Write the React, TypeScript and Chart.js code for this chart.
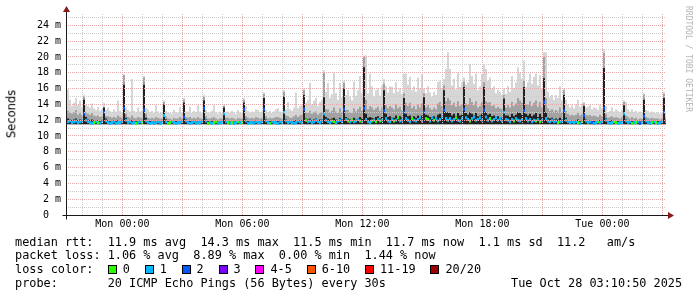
import { useEffect, useRef } from "react";
import { Chart, registerables } from "chart.js";

Chart.register(...registerables);

// ---- time axis: one sample every 6 minutes, 30 hours, hour 0 = Mon 00:00 ----
const FIRST_SAMPLE_HOUR = -2.77;
const SAMPLE_STEP_HOURS = 0.1;
const AXIS_MIN_HOUR = -2.82;
const AXIS_MAX_HOUR = 27.18;

// median rtt per sample (ms)
const MEDIAN_MS = [
  11.8, 11.9, 11.7, 11.8, 11.9, 11.7, 11.8, 11.9, 12.8, 12.0,
  11.8, 11.7, 11.6, 11.7, 11.8, 11.7, 11.6, 11.8, 13.0, 11.9,
  11.7, 11.6, 11.7, 11.8, 11.6, 11.7, 11.7, 11.8, 13.5, 12.0,
  11.7, 11.8, 11.6, 11.7, 11.6, 11.7, 11.8, 11.7, 13.3, 11.9,
  11.7, 11.6, 11.7, 11.6, 11.7, 11.8, 11.6, 11.7, 12.6, 11.8,
  11.6, 11.7, 11.8, 11.7, 11.6, 11.7, 11.7, 11.8, 12.4, 11.9,
  11.7, 11.6, 11.7, 11.8, 11.6, 11.7, 11.7, 11.8, 13.5, 11.9,
  11.6, 11.7, 11.6, 11.7, 11.8, 11.6, 11.7, 11.7, 12.8, 11.8,
  11.7, 11.6, 11.7, 11.6, 11.7, 11.8, 11.7, 11.7, 13.4, 11.9,
  11.6, 11.7, 11.7, 11.6, 11.8, 11.7, 11.7, 11.8, 13.4, 11.9,
  11.7, 11.6, 11.8, 11.7, 11.7, 11.6, 11.8, 11.7, 13.0, 11.9,
  11.7, 11.8, 11.7, 11.6, 11.7, 11.9, 11.8, 11.7, 13.4, 12.0,
  11.8, 11.9, 11.7, 11.8, 12.0, 11.8, 11.7, 11.9, 12.8, 12.0,
  11.8, 11.7, 11.9, 11.8, 11.7, 11.9, 12.0, 11.8, 13.4, 12.1,
  11.9, 11.8, 12.0, 11.8, 11.9, 12.1, 11.9, 11.8, 13.5, 12.1,
  11.8, 11.7, 11.9, 12.0, 11.8, 12.1, 11.9, 12.0, 13.2, 12.2,
  11.9, 11.8, 12.1, 11.9, 12.0, 12.3, 11.9, 12.0, 13.0, 12.2,
  12.0, 11.8, 12.2, 12.0, 11.9, 12.1, 12.3, 11.9, 13.0, 12.2,
  12.1, 11.9, 12.3, 12.0, 12.2, 11.9, 12.1, 12.4, 13.3, 12.2,
  12.0, 12.2, 11.9, 12.1, 12.3, 12.0, 11.9, 12.2, 13.4, 12.3,
  12.1, 11.9, 12.2, 12.4, 12.0, 12.1, 12.3, 12.0, 13.3, 12.4,
  12.0, 12.2, 11.9, 12.1, 12.3, 12.0, 12.2, 11.9, 13.0, 12.1,
  12.0, 11.8, 12.1, 11.9, 12.2, 12.0, 11.9, 12.1, 13.2, 12.2,
  11.9, 12.1, 11.8, 12.0, 11.9, 12.1, 11.8, 12.0, 14.3, 12.2,
  11.9, 11.8, 12.0, 11.8, 11.9, 11.7, 11.8, 11.9, 13.2, 12.0,
  11.8, 11.7, 11.8, 11.7, 11.8, 11.7, 11.6, 11.8, 12.6, 11.9,
  11.7, 11.8, 11.7, 11.6, 11.7, 11.8, 11.7, 11.8, 13.5, 12.0,
  11.7, 11.6, 11.7, 11.8, 11.7, 11.6, 11.7, 11.7, 12.8, 11.9,
  11.7, 11.8, 11.6, 11.7, 11.7, 11.8, 11.6, 11.7, 12.5, 11.9,
  11.7, 11.6, 11.7, 11.8, 11.7, 11.6, 11.7, 11.8, 13.0, 11.8,
];

// loss bin per sample (index into LOSS_COLORS)
const LOSS_BIN = [
  1, 1, 1, 1, 1, 1, 1, 1, 2, 1,
  1, 1, 1, 0, 1, 0, 1, 1, 2, 1,
  1, 1, 1, 1, 1, 1, 1, 1, 2, 1,
  1, 1, 1, 1, 0, 1, 1, 0, 2, 1,
  1, 1, 1, 1, 1, 1, 1, 1, 1, 1,
  0, 0, 1, 1, 1, 1, 1, 1, 2, 1,
  1, 1, 1, 1, 1, 1, 1, 1, 2, 1,
  0, 1, 1, 0, 0, 1, 1, 1, 1, 1,
  0, 1, 0, 1, 1, 0, 1, 0, 2, 1,
  1, 1, 1, 1, 1, 1, 1, 1, 2, 1,
  1, 0, 1, 1, 1, 1, 1, 1, 1, 1,
  1, 1, 1, 1, 1, 1, 1, 1, 2, 0,
  1, 1, 1, 1, 1, 1, 1, 1, 1, 1,
  1, 1, 0, 0, 1, 1, 1, 1, 2, 1,
  0, 1, 0, 1, 1, 1, 0, 1, 2, 1,
  1, 1, 0, 1, 0, 1, 0, 1, 2, 1,
  1, 1, 1, 0, 1, 0, 1, 1, 2, 1,
  1, 1, 0, 1, 1, 1, 1, 1, 2, 0,
  0, 1, 1, 0, 1, 1, 1, 1, 2, 1,
  1, 1, 1, 1, 0, 1, 1, 1, 2, 1,
  1, 0, 1, 1, 1, 1, 1, 1, 2, 1,
  1, 0, 1, 1, 1, 1, 1, 1, 1, 1,
  1, 1, 1, 0, 1, 1, 1, 1, 2, 1,
  1, 1, 1, 1, 0, 1, 0, 1, 2, 1,
  1, 1, 1, 1, 1, 0, 1, 1, 2, 1,
  1, 1, 1, 1, 1, 0, 1, 0, 2, 1,
  1, 1, 2, 1, 1, 0, 1, 1, 2, 1,
  1, 1, 1, 0, 0, 1, 1, 1, 1, 1,
  1, 1, 0, 1, 0, 1, 2, 1, 2, 1,
  1, 1, 0, 1, 0, 1, 1, 1, 2, 1,
];

// smoke: top of dense (dark) part, ms
const SMOKE_DARK_MS = [
  12.2, 12.1, 12.0, 12.1, 12.2, 12.0, 12.1, 12.0, 14.6, 12.4,
  12.1, 12.0, 12.1, 12.0, 11.9, 12.0, 11.9, 12.0, 13.6, 12.2,
  12.0, 11.9, 11.9, 12.0, 11.9, 12.0, 11.9, 12.0, 16.5, 12.3,
  11.9, 11.9, 12.0, 11.9, 11.9, 11.9, 11.9, 11.9, 16.5, 12.3,
  11.9, 11.9, 11.9, 11.8, 11.9, 11.9, 11.8, 11.9, 14.0, 12.1,
  11.9, 11.8, 11.8, 11.9, 11.9, 11.8, 11.9, 11.9, 14.2, 12.1,
  11.9, 11.9, 11.8, 11.9, 11.8, 11.9, 11.9, 11.8, 14.5, 12.1,
  11.9, 11.8, 11.9, 11.9, 11.8, 11.8, 11.9, 11.8, 13.6, 12.0,
  11.9, 11.8, 11.9, 11.8, 11.8, 11.9, 11.8, 11.9, 14.2, 12.1,
  11.9, 11.8, 11.9, 11.8, 11.9, 11.9, 11.8, 11.9, 14.8, 12.1,
  11.8, 11.9, 11.8, 11.9, 11.9, 11.9, 11.9, 11.8, 15.0, 12.1,
  11.9, 11.9, 11.8, 11.9, 12.0, 11.9, 12.0, 12.0, 15.2, 12.2,
  12.1, 12.2, 12.0, 12.1, 12.2, 12.0, 12.1, 12.1, 14.9, 12.4,
  12.2, 12.1, 12.2, 12.3, 12.1, 12.0, 12.3, 12.1, 16.0, 12.4,
  12.2, 12.1, 12.0, 12.3, 12.1, 12.2, 12.4, 12.2, 18.7, 12.8,
  12.3, 12.4, 12.3, 12.2, 12.4, 12.5, 12.2, 12.4, 15.8, 12.8,
  12.4, 12.5, 12.3, 12.3, 12.6, 12.4, 12.5, 12.3, 14.8, 12.8,
  12.5, 12.6, 12.4, 12.5, 12.3, 12.6, 12.4, 12.6, 14.9, 12.7,
  12.6, 12.4, 12.3, 12.5, 12.4, 12.7, 12.8, 12.5, 15.8, 13.0,
  13.0, 12.9, 12.6, 12.8, 12.5, 12.9, 12.6, 12.7, 16.2, 12.9,
  12.7, 13.0, 12.8, 12.6, 12.9, 12.5, 12.6, 12.8, 16.2, 13.0,
  12.7, 12.8, 12.5, 12.6, 12.4, 12.5, 12.4, 12.3, 14.7, 12.6,
  12.6, 12.4, 12.8, 12.5, 12.7, 13.0, 12.9, 12.7, 16.2, 12.8,
  12.6, 12.8, 12.5, 12.7, 12.9, 12.4, 12.8, 12.4, 17.3, 13.0,
  12.3, 12.2, 12.3, 12.1, 12.2, 12.1, 12.3, 12.1, 15.2, 12.3,
  12.0, 11.9, 12.0, 11.9, 12.0, 12.1, 11.9, 12.0, 13.8, 12.1,
  11.9, 12.0, 11.9, 11.9, 11.9, 11.8, 12.0, 11.9, 18.6, 12.2,
  11.9, 11.9, 12.0, 11.9, 11.9, 11.9, 11.8, 11.9, 13.9, 12.1,
  11.9, 11.8, 11.9, 11.8, 11.9, 11.8, 11.8, 11.8, 14.6, 12.0,
  11.9, 11.8, 11.9, 11.8, 11.8, 11.9, 11.8, 11.8, 14.8, 12.0,
];

// smoke: top of middle band, ms
const SMOKE_MID_MS = [
  13.2, 13.0, 12.8, 13.0, 13.3, 12.7, 12.9, 12.6, 15.0, 13.0,
  12.8, 12.7, 12.9, 12.6, 12.5, 12.6, 12.4, 12.5, 13.6, 12.5,
  12.5, 12.4, 12.3, 12.4, 12.3, 12.6, 12.4, 12.3, 17.7, 12.8,
  12.4, 12.3, 12.6, 12.3, 12.2, 12.4, 12.3, 12.3, 17.4, 12.8,
  12.3, 12.2, 12.3, 12.2, 12.4, 12.3, 12.2, 12.2, 14.3, 12.5,
  12.2, 12.2, 12.1, 12.3, 12.2, 12.2, 12.4, 12.2, 14.6, 12.4,
  12.3, 12.4, 12.2, 12.3, 12.2, 12.4, 12.2, 12.2, 15.0, 12.5,
  12.2, 12.2, 12.3, 12.4, 12.2, 12.1, 12.2, 12.2, 13.8, 12.3,
  12.3, 12.2, 12.3, 12.2, 12.1, 12.3, 12.2, 12.2, 14.6, 12.5,
  12.3, 12.2, 12.3, 12.2, 12.4, 12.3, 12.2, 12.3, 15.3, 12.5,
  12.2, 12.3, 12.2, 12.3, 12.4, 12.4, 12.3, 12.2, 15.6, 12.6,
  12.5, 12.3, 12.3, 12.5, 12.7, 12.4, 12.6, 12.7, 15.8, 13.0,
  12.9, 13.2, 12.8, 13.0, 13.1, 12.7, 12.9, 13.0, 18.0, 13.4,
  13.4, 13.0, 13.2, 13.6, 13.1, 12.9, 13.5, 13.0, 16.7, 13.3,
  13.3, 13.0, 12.9, 13.5, 13.1, 13.4, 13.7, 13.2, 20.0, 14.6,
  13.4, 13.8, 13.6, 13.3, 13.5, 13.7, 13.2, 13.6, 16.6, 13.9,
  13.5, 13.8, 13.6, 13.4, 14.0, 13.5, 13.7, 13.3, 15.4, 14.2,
  13.8, 14.2, 13.5, 13.8, 13.4, 14.0, 13.6, 14.1, 15.4, 13.6,
  13.9, 13.5, 13.3, 13.6, 13.4, 14.1, 14.3, 13.8, 16.4, 14.4,
  14.8, 14.5, 13.9, 14.2, 13.7, 14.4, 13.8, 14.0, 16.9, 14.1,
  14.0, 14.8, 14.3, 13.9, 14.4, 13.6, 13.8, 14.3, 16.8, 14.4,
  14.2, 14.3, 13.8, 13.9, 13.5, 13.7, 13.5, 13.4, 15.2, 13.6,
  13.9, 13.6, 14.3, 13.8, 14.1, 14.8, 14.5, 14.2, 17.0, 14.0,
  14.0, 14.4, 13.8, 14.2, 14.5, 13.7, 14.3, 13.6, 20.0, 14.8,
  13.5, 13.2, 13.4, 13.1, 13.3, 13.1, 13.6, 13.0, 15.8, 13.2,
  12.8, 12.6, 12.7, 12.6, 12.7, 12.9, 12.6, 12.8, 14.1, 12.7,
  12.6, 12.7, 12.5, 12.6, 12.5, 12.4, 12.7, 12.5, 20.5, 12.8,
  12.3, 12.4, 12.5, 12.3, 12.4, 12.3, 12.2, 12.4, 14.3, 12.6,
  12.4, 12.2, 12.4, 12.2, 12.3, 12.1, 12.2, 12.2, 15.2, 12.4,
  12.3, 12.2, 12.3, 12.2, 12.2, 12.2, 12.1, 12.2, 15.3, 12.3,
];

// smoke: maximum (light outer band), ms
const SMOKE_MAX_MS = [
  15.9, 14.6, 13.8, 14.2, 14.8, 13.9, 14.5, 13.6, 15.2, 13.9,
  13.8, 13.6, 14.1, 13.5, 13.3, 13.7, 13.2, 13.4, 14.2, 13.3,
  13.6, 13.2, 13.0, 13.4, 13.1, 14.5, 13.2, 13.0, 17.8, 13.6,
  13.3, 13.1, 17.2, 13.2, 13.0, 13.6, 13.1, 13.2, 17.6, 13.5,
  13.4, 13.0, 13.2, 12.9, 13.9, 13.1, 12.9, 13.0, 14.5, 13.2,
  13.0, 12.9, 12.8, 13.3, 13.0, 12.9, 13.7, 13.0, 14.8, 13.1,
  13.1, 13.7, 12.9, 13.2, 13.0, 13.9, 13.1, 12.9, 15.2, 13.3,
  13.0, 12.9, 13.2, 13.9, 13.0, 12.8, 13.1, 12.9, 14.0, 13.0,
  13.1, 12.9, 13.2, 13.0, 12.8, 13.3, 13.0, 12.9, 14.8, 13.8,
  13.2, 12.9, 13.1, 13.0, 13.4, 13.3, 13.0, 13.1, 15.5, 13.3,
  13.0, 13.2, 12.9, 13.1, 13.4, 13.5, 13.1, 13.0, 15.8, 13.4,
  14.3, 13.4, 13.2, 13.6, 15.5, 13.5, 13.8, 14.0, 16.0, 14.2,
  14.6, 16.7, 14.0, 14.5, 14.8, 13.8, 14.3, 14.6, 18.3, 15.6,
  16.7, 14.8, 15.3, 18.0, 15.4, 14.6, 16.7, 14.9, 17.0, 15.2,
  15.8, 15.0, 14.5, 16.9, 15.1, 15.8, 17.6, 15.4, 20.2, 20.2,
  15.4, 17.9, 16.3, 15.0, 15.8, 16.0, 15.1, 16.4, 17.2, 16.3,
  15.5, 16.3, 16.2, 15.4, 16.8, 15.6, 16.0, 15.3, 17.9, 17.9,
  16.5, 17.5, 15.8, 16.3, 15.6, 17.4, 16.0, 17.8, 16.0, 15.4,
  16.3, 15.5, 15.0, 15.6, 15.2, 16.8, 17.0, 16.1, 17.2, 18.5,
  20.6, 18.5, 16.4, 17.2, 15.9, 18.0, 16.2, 16.8, 17.4, 16.5,
  16.8, 19.1, 17.6, 16.6, 17.9, 15.8, 16.3, 17.8, 19.1, 18.5,
  17.0, 17.4, 16.0, 16.3, 15.4, 15.9, 15.6, 15.2, 16.0, 15.3,
  16.3, 15.6, 17.6, 16.0, 16.8, 18.7, 18.0, 17.2, 19.6, 16.2,
  16.8, 17.9, 16.6, 17.5, 17.9, 16.4, 17.7, 16.0, 20.6, 20.6,
  15.6, 14.9, 15.2, 14.6, 15.2, 14.8, 16.3, 14.5, 16.0, 14.6,
  14.0, 13.6, 13.9, 13.5, 14.0, 14.6, 13.7, 14.1, 14.3, 13.6,
  13.7, 13.9, 13.4, 13.6, 13.5, 13.3, 13.9, 13.5, 21.0, 13.8,
  13.0, 13.2, 13.6, 13.1, 13.4, 13.2, 13.0, 13.3, 14.5, 14.3,
  13.4, 13.1, 13.4, 13.0, 13.2, 12.9, 13.1, 13.0, 15.4, 13.3,
  13.2, 12.9, 13.1, 13.0, 12.9, 13.0, 12.8, 12.9, 15.6, 13.0,
];

const SMOKE_FLOOR_MS = 11.5;

// axis ticks / labels
const X_GRID_HOURS = [-2, -1, 0, 1, 2, 3, 4, 5, 6, 7, 8, 9, 10, 11, 12, 13, 14, 15, 16, 17, 18, 19, 20, 21, 22, 23, 24, 25, 26, 27];
const X_LABEL_HOURS = [0, 6, 12, 18, 24];
const X_LABELS = ["Mon 00:00", "Mon 06:00", "Mon 12:00", "Mon 18:00", "Tue 00:00"];
const Y_GRID_MS = [0, 1, 2, 3, 4, 5, 6, 7, 8, 9, 10, 11, 12, 13, 14, 15, 16, 17, 18, 19, 20, 21, 22, 23, 24, 25];
const Y_LABEL_MS = [0, 2, 4, 6, 8, 10, 12, 14, 16, 18, 20, 22, 24];
const Y_LABELS = ["0  ", "2 m", "4 m", "6 m", "8 m", "10 m", "12 m", "14 m", "16 m", "18 m", "20 m", "22 m", "24 m"];
const Y_MAX_MS = 25.44;

// legend
const LOSS_LABELS = ["0", "1", "2", "3", "4-5", "6-10", "11-19", "20/20"];
const LOSS_COLORS = ["#26ff00", "#00b8ff", "#0059ff", "#7e00ff", "#ff00ff", "#ff5500", "#ff0000", "#a10000"];
const STAT_LINE_RTT = "median rtt:  11.9 ms avg  14.3 ms max  11.5 ms min  11.7 ms now  1.1 ms sd  11.2   am/s";
const STAT_LINE_LOSS = "packet loss: 1.06 % avg  8.89 % max  0.00 % min  1.44 % now";
const PROBE_LINE = "probe:       20 ICMP Echo Pings (56 Bytes) every 30s";
const DATE_LINE = "Tue Oct 28 03:10:50 2025";

const MONO = '"DejaVu Sans Mono", monospace';
const GRID_MAJOR = "#e6a8a8";
const GRID_MINOR = "#cccccc";
const ARROW = "#8b1a1a";

const gridColor = (every: number) => (c: any) => {
  const v = c && c.tick ? Math.round(c.tick.value) : 1;
  return v % every === 0 ? GRID_MAJOR : GRID_MINOR;
};

const axesPlugin = {
  id: "rrdAxes",
  afterDraw(chart: any) {
    const { ctx, chartArea } = chart;
    const y0 = Math.round(chart.scales.y.getPixelForValue(0)) + 0.5;
    const x0 = Math.round(chartArea.left) + 0.5;
    ctx.save();
    ctx.strokeStyle = "#1a1a1a";
    ctx.lineWidth = 1;
    ctx.beginPath();
    ctx.moveTo(x0 - 4, y0);
    ctx.lineTo(chartArea.right + 3, y0);
    ctx.moveTo(x0, y0 + 4);
    ctx.lineTo(x0, chartArea.top - 3);
    ctx.stroke();
    ctx.fillStyle = ARROW;
    ctx.beginPath();
    ctx.moveTo(chartArea.right + 8, y0);
    ctx.lineTo(chartArea.right + 2, y0 - 3.5);
    ctx.lineTo(chartArea.right + 2, y0 + 3.5);
    ctx.closePath();
    ctx.fill();
    ctx.beginPath();
    ctx.moveTo(x0, chartArea.top - 8);
    ctx.lineTo(x0 - 3.5, chartArea.top - 2);
    ctx.lineTo(x0 + 3.5, chartArea.top - 2);
    ctx.closePath();
    ctx.fill();
    ctx.restore();
  },
};

export default function App() {
  const canvasRef = useRef<HTMLCanvasElement>(null);

  useEffect(() => {
    const xs = MEDIAN_MS.map((_, i) => FIRST_SAMPLE_HOUR + SAMPLE_STEP_HOURS * (i + 0.5));
    const band = (tops: number[]) => tops.map((t, i) => ({ x: xs[i], y: [SMOKE_FLOOR_MS, t] }));
    const MEDIAN_HALF = 0.19;
    const medianMarks = MEDIAN_MS.map((m, i) => ({ x: xs[i], y: [m - MEDIAN_HALF, m + MEDIAN_HALF] }));
    const barCommon = {
      type: "bar" as const,
      grouped: false,
      barThickness: 2,
      borderWidth: 0,
      inflateAmount: 0,
    };

    const chart = new Chart(canvasRef.current as HTMLCanvasElement, {
      type: "bar",
      data: {
        datasets: [
          { ...barCommon, label: "median", data: medianMarks as any, backgroundColor: LOSS_BIN.map((b) => LOSS_COLORS[b]) },
          { ...barCommon, label: "dark", data: band(SMOKE_DARK_MS) as any, backgroundColor: "#222222" },
          { ...barCommon, label: "mid", data: band(SMOKE_MID_MS) as any, backgroundColor: "#a2a2a2" },
          { ...barCommon, label: "max", data: band(SMOKE_MAX_MS) as any, backgroundColor: "#d6d6d6" },
        ],
      },
      plugins: [axesPlugin],
      options: {
        animation: false,
        responsive: false,
        maintainAspectRatio: false,
        devicePixelRatio: 1,
        events: [],
        layout: { padding: { top: 14, left: 0, right: 31, bottom: 0 } },
        plugins: { legend: { display: false }, tooltip: { enabled: false }, title: { display: false } },
        scales: {
          x: {
            type: "linear",
            offset: false,
            min: AXIS_MIN_HOUR,
            max: AXIS_MAX_HOUR,
            afterBuildTicks: (s: any) => {
              s.ticks = X_GRID_HOURS.map((v) => ({ value: v }));
            },
            afterFit: (s: any) => {
              s.height = 82;
            },
            grid: {
              z: 1,
              offset: false,
              drawTicks: false,
              lineWidth: 1,
              color: gridColor(3),
            },
            border: { display: false, dash: [1, 1] },
            ticks: {
              autoSkip: false,
              maxRotation: 0,
              minRotation: 0,
              padding: 3,
              color: "#000",
              font: { family: MONO, size: 10 },
              callback: (v: any) => {
                const k = X_LABEL_HOURS.indexOf(Math.round(Number(v)));
                return k >= 0 ? X_LABELS[k] : "";
              },
            },
          },
          y: {
            type: "linear",
            min: 0,
            max: Y_MAX_MS,
            afterBuildTicks: (s: any) => {
              s.ticks = Y_GRID_MS.map((v) => ({ value: v }));
            },
            afterFit: (s: any) => {
              s.width = 66;
            },
            grid: {
              z: 1,
              drawTicks: false,
              lineWidth: 1,
              color: gridColor(2),
            },
            border: { display: false, dash: [1, 1] },
            ticks: {
              autoSkip: false,
              padding: 5,
              color: "#000",
              font: { family: MONO, size: 10 },
              callback: (v: any) => {
                const k = Y_LABEL_MS.indexOf(Math.round(Number(v)));
                return k >= 0 ? Y_LABELS[k] : "";
              },
            },
          },
        },
      } as any,
    });
    return () => chart.destroy();
  }, []);

  const row: any = {
    position: "absolute",
    left: 15,
    fontFamily: MONO,
    fontSize: "11.85px",
    lineHeight: "14px",
    height: 14,
    whiteSpace: "pre",
    color: "#000",
  };

  return (
    <div style={{ position: "absolute", left: 0, top: 0, width: 697, height: 297, background: "#fff", overflow: "hidden" }}>
      <canvas ref={canvasRef} width={697} height={297} style={{ position: "absolute", left: 0, top: 0, width: 697, height: 297, display: "block" }} />
      <div
        style={{
          position: "absolute",
          left: 11.5,
          top: 113.5,
          transform: "translate(-50%, -50%) rotate(-90deg)",
          fontFamily: '"DejaVu Sans", sans-serif',
          fontSize: "11.5px",
          lineHeight: 1,
          whiteSpace: "nowrap",
          color: "#000",
        }}
      >
        Seconds
      </div>
      <div
        style={{
          position: "absolute",
          left: 688,
          top: 59,
          transform: "translate(-50%, -50%) rotate(90deg)",
          fontFamily: MONO,
          fontSize: "8px",
          lineHeight: 1,
          whiteSpace: "nowrap",
          color: "#b4b4b4",
        }}
      >
        RRDTOOL / TOBI OETIKER
      </div>
      <div style={{ ...row, top: 234.5 }}>{STAT_LINE_RTT}</div>
      <div style={{ ...row, top: 248.2 }}>{STAT_LINE_LOSS}</div>
      <div style={{ ...row, top: 262, display: "flex", alignItems: "center" }}>
        <span>{"loss color:  "}</span>
        {LOSS_LABELS.map((lab, i) => (
          <span key={lab} style={{ display: "flex", alignItems: "center", marginRight: 14.8 }}>
            <span
              style={{
                display: "inline-block",
                width: 7,
                height: 7,
                border: "1px solid #000",
                background: LOSS_COLORS[i],
                marginRight: 6,
              }}
            />
            <span>{lab}</span>
          </span>
        ))}
      </div>
      <div style={{ ...row, top: 275.7 }}>{PROBE_LINE}</div>
      <div style={{ ...row, left: 511, top: 275.7 }}>{DATE_LINE}</div>
    </div>
  );
}
